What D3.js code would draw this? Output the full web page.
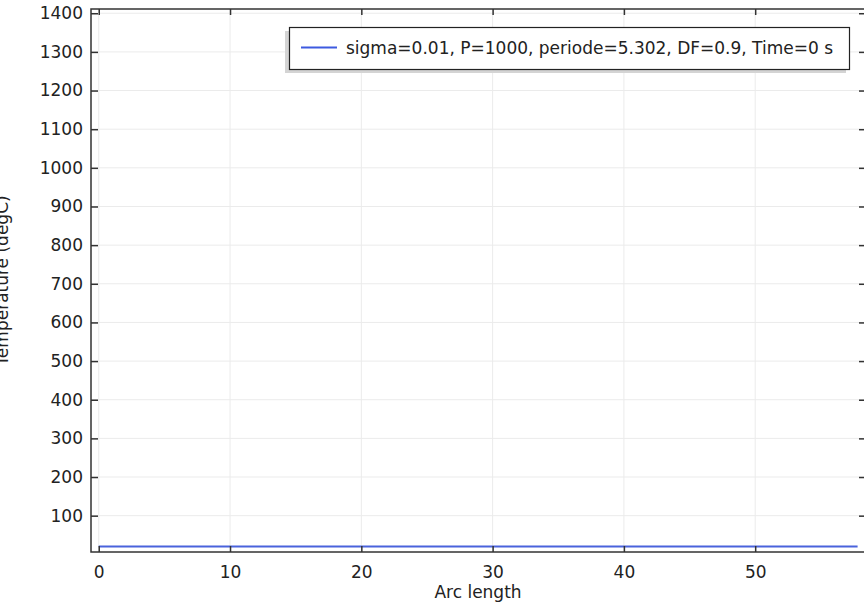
<!DOCTYPE html>
<html>
<head>
<meta charset="utf-8">
<script src="https://cdn.jsdelivr.net/npm/d3@7"></script>
<style>
  body { margin: 0; background: #fff; }
  text { font-family: "DejaVu Sans", sans-serif; fill: #222; }
</style>
</head>
<body>
<svg width="864" height="606"></svg>
<script>
// data
const arcLength = [0, 57.8];
const temperature = [20, 20];
const xTicks = [0, 10, 20, 30, 40, 50];
const yTicks = [100, 200, 300, 400, 500, 600, 700, 800, 900, 1000, 1100, 1200, 1300, 1400];
const seriesLabel = 'sigma=0.01, P=1000, periode=5.302, DF=0.9, Time=0 s';

const LEFT = 91, TOP = 9, RIGHT = 866, BOTTOM = 552;

const svg = d3.select('svg');

const x = d3.scaleLinear().domain([-0.59, 58.44]).range([LEFT, RIGHT]);
const y = d3.scaleLinear().domain([6, 1411]).range([BOTTOM, TOP]);

// grid
const grid = svg.append('g').attr('stroke', '#ebebeb').attr('stroke-width', 1);
grid.selectAll('.gx').data(xTicks).enter().append('line')
  .attr('x1', d => x(d)).attr('x2', d => x(d))
  .attr('y1', TOP).attr('y2', BOTTOM);
grid.selectAll('.gy').data(yTicks).enter().append('line')
  .attr('x1', LEFT).attr('x2', RIGHT)
  .attr('y1', d => y(d)).attr('y2', d => y(d));

// series line
const pts = arcLength.map((a, i) => [a, temperature[i]]);
svg.append('path')
  .datum(pts)
  .attr('fill', 'none')
  .attr('stroke', '#4a63dc')
  .attr('stroke-width', 2)
  .attr('d', d3.line().x(d => x(d[0])).y(d => y(d[1])));

// axes: ticks point inward on all four sides
const fmt = d3.format('d');
svg.append('g').attr('transform', `translate(0,${BOTTOM})`)
  .call(d3.axisBottom(x).tickValues(xTicks).tickFormat(fmt).tickSizeInner(-6).tickSizeOuter(0).tickPadding(14))
  .call(g => g.select('.domain').remove());
svg.append('g').attr('transform', `translate(0,${TOP})`)
  .call(d3.axisTop(x).tickValues(xTicks).tickSizeInner(-6).tickSizeOuter(0).tickFormat(''))
  .call(g => g.select('.domain').remove());
svg.append('g').attr('transform', `translate(${LEFT},0)`)
  .call(d3.axisLeft(y).tickValues(yTicks).tickFormat(fmt).tickSizeInner(-7).tickSizeOuter(0).tickPadding(8))
  .call(g => g.select('.domain').remove());
svg.append('g').attr('transform', `translate(${RIGHT},0)`)
  .call(d3.axisRight(y).tickValues(yTicks).tickSizeInner(-7).tickSizeOuter(0).tickFormat(''))
  .call(g => g.select('.domain').remove());

svg.selectAll('.tick line').attr('stroke', '#333').attr('stroke-width', 1.5);
svg.selectAll('.tick text').style('font-size', '17px').attr('fill', '#2a2a2a');

// frame
svg.append('rect')
  .attr('x', LEFT).attr('y', TOP)
  .attr('width', RIGHT - LEFT).attr('height', BOTTOM - TOP)
  .attr('fill', 'none').attr('stroke', '#333').attr('stroke-width', 1.5);

// axis titles
svg.append('text')
  .attr('x', 478).attr('y', 598)
  .attr('text-anchor', 'middle')
  .style('font-size', '17px')
  .text('Arc length');
svg.append('text')
  .attr('transform', `translate(8,${(TOP + BOTTOM) / 2}) rotate(-90)`)
  .attr('text-anchor', 'middle')
  .style('font-size', '17px')
  .text('Temperature (degC)');

// legend
const lg = svg.append('g');
lg.append('rect')
  .attr('x', 285).attr('y', 31).attr('width', 561).attr('height', 42)
  .attr('fill', '#d4d4d4');
lg.append('rect')
  .attr('x', 289.5).attr('y', 27.5).attr('width', 560).attr('height', 42)
  .attr('fill', '#fff').attr('stroke', '#222').attr('stroke-width', 1.2);
lg.append('line')
  .attr('x1', 301).attr('x2', 337).attr('y1', 47.5).attr('y2', 47.5)
  .attr('stroke', '#3d5ae0').attr('stroke-width', 2);
lg.append('text')
  .attr('x', 346).attr('y', 54)
  .style('font-size', '17px')
  .text(seriesLabel);
</script>
</body>
</html>
